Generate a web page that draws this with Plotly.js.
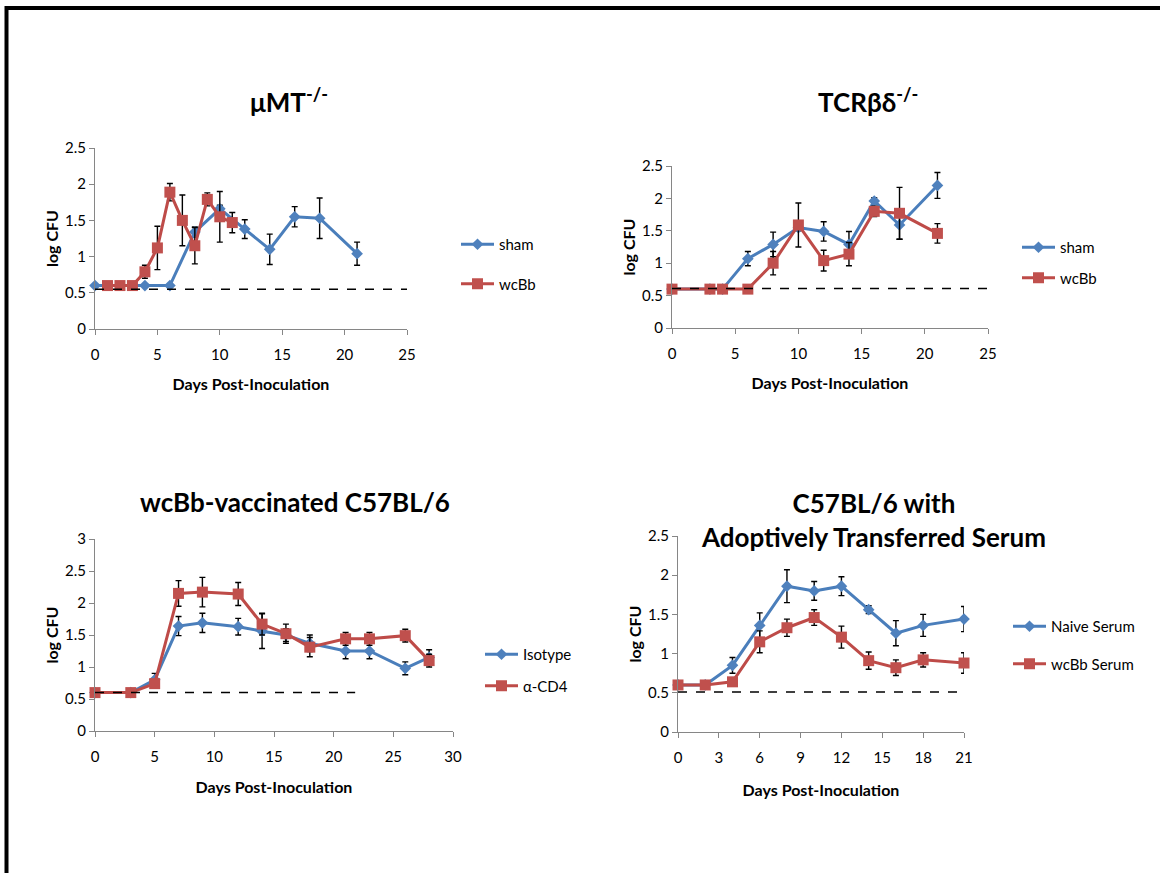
<!DOCTYPE html>
<html>
<head>
<meta charset="utf-8">
<script src="https://cdn.plot.ly/plotly-3.0.1.min.js"></script>
<style>html,body{margin:0;padding:0;background:#fff;}</style>
</head>
<body>
<div id="chart" style="width:1160px;height:873px;"></div>
<script>
// ---- Panel 1: µMT-/- ----
const mu_sham_days = [0, 4, 6, 8, 10, 12, 14, 16, 18, 21];
const mu_sham_cfu  = [0.6, 0.6, 0.6, 1.34, 1.66, 1.38, 1.10, 1.55, 1.53, 1.04];
const mu_sham_err  = [0, 0, 0, 0.07, 0.05, 0.13, 0.21, 0.14, 0.28, 0.16];
const mu_wcbb_days = [1, 2, 3, 4, 5, 6, 7, 8, 9, 10, 11];
const mu_wcbb_cfu  = [0.6, 0.6, 0.6, 0.79, 1.12, 1.89, 1.50, 1.15, 1.79, 1.55, 1.47];
const mu_wcbb_err  = [0, 0, 0, 0.09, 0.30, 0.12, 0.35, 0.25, 0.09, 0.35, 0.14];
const mu_limit_days = [0, 25];
const mu_limit_cfu  = [0.55, 0.55];

// ---- Panel 2: TCRβδ-/- ----
const tcr_days      = [0, 3, 4, 6, 8, 10, 12, 14, 16, 18, 21];
const tcr_sham_cfu  = [0.6, 0.6, 0.6, 1.07, 1.29, 1.55, 1.49, 1.29, 1.96, 1.59, 2.20];
const tcr_sham_err  = [0, 0, 0, 0.11, 0.19, 0.05, 0.15, 0.20, 0.05, 0.22, 0.20];
const tcr_wcbb_cfu  = [0.6, 0.6, 0.6, 0.6, 1.00, 1.59, 1.04, 1.14, 1.80, 1.77, 1.46];
const tcr_wcbb_err  = [0, 0, 0, 0, 0.18, 0.34, 0.16, 0.18, 0.08, 0.40, 0.15];
const tcr_limit_days = [0, 25];
const tcr_limit_cfu  = [0.61, 0.61];

// ---- Panel 3: wcBb-vaccinated C57BL/6 ----
const vac_days    = [0, 3, 5, 7, 9, 12, 14, 16, 18, 21, 23, 26, 28];
const vac_iso_cfu = [0.6, 0.6, 0.80, 1.64, 1.69, 1.63, 1.56, 1.50, 1.37, 1.25, 1.25, 0.98, 1.15];
const vac_iso_err = [0, 0, 0.10, 0.15, 0.15, 0.13, 0.27, 0.10, 0.13, 0.12, 0.12, 0.10, 0.12];
const vac_cd4_cfu = [0.6, 0.6, 0.74, 2.15, 2.17, 2.14, 1.67, 1.52, 1.31, 1.44, 1.44, 1.49, 1.10];
const vac_cd4_err = [0, 0, 0.05, 0.20, 0.23, 0.18, 0.17, 0.15, 0.15, 0.10, 0.10, 0.10, 0.10];
const vac_limit_days = [0, 21.8];
const vac_limit_cfu  = [0.6, 0.6];

// ---- Panel 4: C57BL/6 with adoptively transferred serum ----
const ser_days      = [0, 2, 4, 6, 8, 10, 12, 14, 16, 18, 21];
const ser_naive_cfu = [0.6, 0.6, 0.85, 1.36, 1.86, 1.80, 1.86, 1.56, 1.26, 1.36, 1.44];
const ser_naive_err = [0, 0, 0.10, 0.16, 0.21, 0.12, 0.12, 0.05, 0.16, 0.14, 0.16];
const ser_wcbb_cfu  = [0.6, 0.6, 0.64, 1.15, 1.33, 1.46, 1.21, 0.91, 0.82, 0.92, 0.88];
const ser_wcbb_err  = [0, 0, 0.03, 0.14, 0.11, 0.10, 0.14, 0.11, 0.10, 0.09, 0.13];
const ser_limit_days = [0, 21.2];
const ser_limit_cfu  = [0.51, 0.51];

// ---- Text ----
const panel_titles = ['μMT<sup>-/-</sup>', 'TCRβδ<sup>-/-</sup>', 'wcBb-vaccinated C57BL/6', 'C57BL/6 with<br>Adoptively Transferred Serum'];
const legend_names = [['sham', 'wcBb'], ['sham', 'wcBb'], ['Isotype', 'α-CD4'], ['Naive Serum', 'wcBb Serum']];
const x_title = 'Days Post-Inoculation';
const y_title = 'log CFU';

const FONT = 'Lato, "Liberation Sans", sans-serif';
const BLUE = '#4A7EBB', BLUE_M = '#4F81BD';
const RED = '#BE4B48', RED_M = '#C0504D';

function series(x, y, err, name, kind, idx, legendName) {
  const blue = kind === 'blue';
  return {
    x: x, y: y, name: name, type: 'scatter', mode: 'lines+markers',
    xaxis: idx === 1 ? 'x' : 'x' + idx, yaxis: idx === 1 ? 'y' : 'y' + idx,
    legend: legendName, legendgroup: legendName + name,
    line: {color: blue ? BLUE : RED, width: 3},
    marker: blue ? {symbol: 'diamond', size: 9, color: BLUE_M} : {symbol: 'square', size: 11, color: RED_M},
    error_y: {type: 'data', array: err, visible: true, color: '#000', thickness: 1.4, width: 3},
    cliponaxis: false
  };
}
function limit(x, y, idx) {
  return {
    x: x, y: y, type: 'scatter', mode: 'lines', showlegend: false, hoverinfo: 'skip',
    xaxis: idx === 1 ? 'x' : 'x' + idx, yaxis: idx === 1 ? 'y' : 'y' + idx,
    line: {color: '#000', width: 1.5, dash: 'dash'}, cliponaxis: false
  };
}

const data = [
  series(mu_sham_days, mu_sham_cfu, mu_sham_err, legend_names[0][0], 'blue', 1, 'legend'),
  series(mu_wcbb_days, mu_wcbb_cfu, mu_wcbb_err, legend_names[0][1], 'red', 1, 'legend'),
  limit(mu_limit_days, mu_limit_cfu, 1),
  series(tcr_days, tcr_sham_cfu, tcr_sham_err, legend_names[1][0], 'blue', 2, 'legend2'),
  series(tcr_days, tcr_wcbb_cfu, tcr_wcbb_err, legend_names[1][1], 'red', 2, 'legend2'),
  limit(tcr_limit_days, tcr_limit_cfu, 2),
  series(vac_days, vac_iso_cfu, vac_iso_err, legend_names[2][0], 'blue', 3, 'legend3'),
  series(vac_days, vac_cd4_cfu, vac_cd4_err, legend_names[2][1], 'red', 3, 'legend3'),
  limit(vac_limit_days, vac_limit_cfu, 3),
  series(ser_days, ser_naive_cfu, ser_naive_err, legend_names[3][0], 'blue', 4, 'legend4'),
  series(ser_days, ser_wcbb_cfu, ser_wcbb_err, legend_names[3][1], 'red', 4, 'legend4'),
  limit(ser_limit_days, ser_limit_cfu, 4)
];

const W = 1160, H = 873;
function px2x(p) { return p / W; }
function px2y(p) { return 1 - p / H; }

function xax(dom, anchor, range, dtick, standoff) {
  return {
    domain: [px2x(dom[0]), px2x(dom[1])], anchor: anchor, range: range, dtick: dtick, tick0: 0,
    showline: true, linecolor: '#868686', linewidth: 1, ticks: 'outside', ticklen: 5, tickcolor: '#868686',
    showgrid: false, zeroline: false, fixedrange: true, ticklabelstandoff: 7,
    tickfont: {family: FONT, size: 15, color: '#000'},
    title: {text: x_title, font: {family: FONT, size: 16, color: '#000', weight: 700}, standoff: standoff}
  };
}
function yax(dom, anchor, range) {
  return {
    domain: [px2y(dom[1]), px2y(dom[0])], anchor: anchor, range: range, dtick: 0.5, tick0: 0,
    showline: true, linecolor: '#868686', linewidth: 1, ticks: 'outside', ticklen: 5, tickcolor: '#868686',
    showgrid: false, zeroline: false, fixedrange: true,
    tickfont: {family: FONT, size: 15, color: '#000'},
    title: {text: y_title, font: {family: FONT, size: 16, color: '#000', weight: 700}, standoff: 2}
  };
}
function leg(xp, yp, gap) {
  return {x: px2x(xp), y: px2y(yp), xanchor: 'left', yanchor: 'middle', bgcolor: 'rgba(0,0,0,0)',
    font: {family: FONT, size: 15, color: '#000'}, tracegroupgap: gap, traceorder: 'grouped', itemwidth: 33};
}
function ttl(text, xp, yp) {
  return {text: text, x: px2x(xp), y: px2y(yp), xref: 'paper', yref: 'paper', showarrow: false,
    xanchor: 'center', yanchor: 'middle', font: {family: FONT, size: 26, color: '#000', weight: 700}};
}

const layout = {
  width: W, height: H, margin: {l: 0, r: 0, t: 0, b: 0},
  paper_bgcolor: '#fff', plot_bgcolor: '#fff', showlegend: true,
  xaxis:  xax([95, 407], 'y', [0, 25], 5, 16),
  yaxis:  yax([148, 329], 'x', [0, 2.5]),
  xaxis2: xax([672, 988], 'y2', [0, 25], 5, 16),
  yaxis2: yax([166, 328], 'x2', [0, 2.5]),
  xaxis3: xax([95, 453], 'y3', [0, 30], 5, 17),
  yaxis3: yax([539, 731], 'x3', [0, 3]),
  xaxis4: xax([678, 964], 'y4', [0, 21], 3, 19),
  yaxis4: yax([536, 732], 'x4', [0, 2.5]),
  legend:  leg(456, 264, 17),
  legend2: leg(1017, 262.5, 8),
  legend3: leg(480, 670, 9),
  legend4: leg(1008, 645, 15),
  annotations: [
    ttl(panel_titles[0], 289, 100),
    ttl(panel_titles[1], 868, 100),
    ttl(panel_titles[2], 295, 502),
    ttl(panel_titles[3], 873, 520)
  ],
  shapes: [
    {type: 'line', xref: 'paper', yref: 'paper', x0: px2x(5), x1: 1, y0: px2y(8), y1: px2y(8), line: {color: '#000', width: 4}},
    {type: 'line', xref: 'paper', yref: 'paper', x0: px2x(6.5), x1: px2x(6.5), y0: px2y(6), y1: 0, line: {color: '#000', width: 4}}
  ]
};

Plotly.newPlot('chart', data, layout, {displayModeBar: false, staticPlot: true});
</script>
</body>
</html>
